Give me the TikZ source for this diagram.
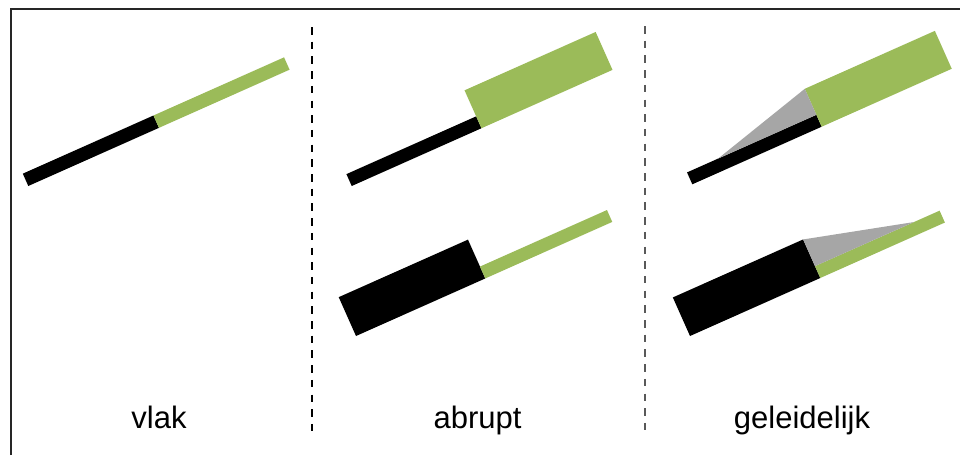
\documentclass[tikz,border=0pt]{standalone}
\usepackage{fontspec}
\setmainfont{Liberation Sans}
\definecolor{bargreen}{HTML}{9BBB59}
\definecolor{bargrey}{HTML}{A6A6A6}
\begin{document}
\begin{tikzpicture}[x=1pt,y=-1pt,
  greenbar/.style={fill=bargreen},
  blackbar/.style={fill=black},
  taper/.style={fill=bargrey},
  frameline/.style={line width=2pt, draw=black!85},
  divider/.style={line width=2pt, draw=black, dash pattern=on 7.5pt off 7.2pt},
  lightdivider/.style={line width=1.3pt, draw=black!65, dash pattern=on 7.5pt off 7.2pt},
  caption/.style={font=\fontsize{31}{31}\selectfont, anchor=base, inner sep=0pt}]
\useasboundingbox (0,0) rectangle (960,455);
% frame
\draw[frameline] (10.8,455) -- (10.8,9) -- (960,9);
% dividers
\draw[divider] (311.5,27) -- (311.5,435);
\draw[lightdivider] (645,26) -- (645,435);
% vlak
\begin{scope}[shift={(28.3,186)}, rotate=24]
  \fill[blackbar] (0,0) -- (143,0) -- (143,-13.5) -- (0,-13.5) -- cycle;
  \fill[greenbar] (143,0) -- (286,0) -- (286,-13.5) -- (143,-13.5) -- cycle;
\end{scope}
% abrupt top
\begin{scope}[shift={(351.7,186)}, rotate=24]
  \fill[blackbar] (0,0) -- (142,0) -- (142,-13) -- (0,-13) -- cycle;
  \fill[greenbar] (142,0) -- (285.5,0) -- (285.5,-41.5) -- (142,-41.5) -- cycle;
\end{scope}
% abrupt bottom
\begin{scope}[shift={(356,336)}, rotate=24]
  \fill[blackbar] (0,0) -- (141.5,0) -- (141.5,-42.5) -- (0,-42.5) -- cycle;
  \fill[greenbar] (141.5,0) -- (280.5,0) -- (280.5,-13) -- (141.5,-13) -- cycle;
\end{scope}
% geleidelijk top
\begin{scope}[shift={(692.3,184.3)}, rotate=24]
  \fill[blackbar] (0,0) -- (141.6,0) -- (141.6,-13) -- (0,-13) -- cycle;
  \fill[greenbar] (141.6,0) -- (284,0) -- (284,-41.5) -- (141.6,-41.5) -- cycle;
  \fill[taper] (34,-13) -- (141.6,-41.5) -- (141.6,-13) -- cycle;
\end{scope}
% geleidelijk bottom
\begin{scope}[shift={(690,336)}, rotate=24]
  \fill[blackbar] (0,0) -- (142.6,0) -- (142.6,-42.2) -- (0,-42.2) -- cycle;
  \fill[greenbar] (142.6,0) -- (279,0) -- (279,-13) -- (142.6,-13) -- cycle;
  \fill[taper] (142.6,-42.2) -- (251,-13) -- (142.6,-13) -- cycle;
\end{scope}
% captions
\node[caption] (vlak) at (159,428) {vlak};
\node[caption] (abrupt) at (477.5,428) {abrupt};
\node[caption] (geleidelijk) at (802,428) {geleidelijk};
\end{tikzpicture}
\end{document}
